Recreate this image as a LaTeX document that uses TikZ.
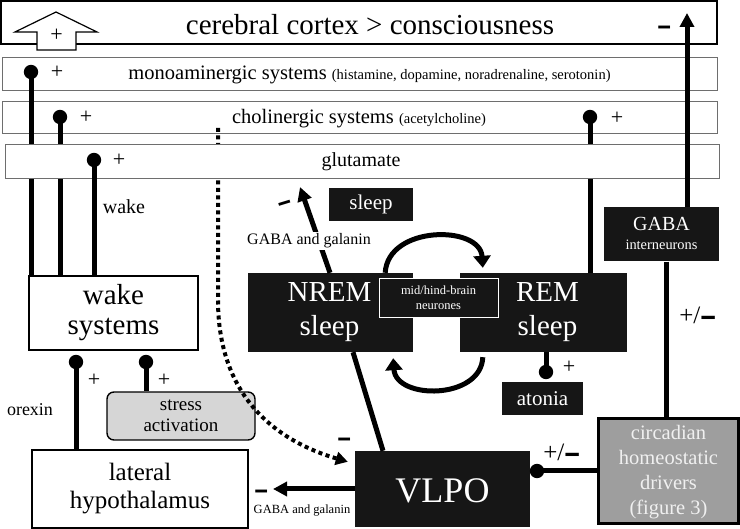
\documentclass[tikz,border=0pt]{standalone}
\usepackage{fontspec}
\usepackage{graphicx}
\setmainfont{Liberation Serif}
\usetikzlibrary{arrows.meta}
\definecolor{boxblack}{HTML}{161616}
\definecolor{circgrey}{HTML}{9E9E9E}
\definecolor{stressgrey}{HTML}{D6D6D6}
\definecolor{thinframe}{HTML}{6E6E6E}
\newcommand{\fsz}[1]{\fontsize{#1}{#1}\selectfont}
% heavy minus sign: the bar alone forms the box
\newcommand{\thkminus}{\raisebox{-0.89em}[0.19em][0pt]{\scalebox{1.15}[2.6]{−}}}
% heavy minus sign sitting on the axis of a "+"
\newcommand{\axminus}{\raisebox{-0.64em}[0.36em][0pt]{\scalebox{1.15}[2.6]{−}}}
\tikzset{
  thinbox/.style={draw=thinframe, line width=0.9pt, fill=white, inner sep=0pt},
  whitebox/.style={draw=black, line width=1.6pt, fill=white, inner sep=0pt},
  blackbox/.style={fill=boxblack, text=white, align=center, inner sep=0pt},
  txt/.style={inner sep=0pt, align=center},
  link/.style={line width=5pt},
  tipped/.style={line width=5pt, -{Triangle[length=14pt,width=14pt]}},
  arcarrow/.style={line width=5pt, -{Triangle[length=12pt,width=17pt]}},
  dotline/.style={line width=4pt, dash pattern=on 4pt off 3.5pt, -{Triangle[length=12pt,width=13pt]}},
  pinhead/.style={fill=black},
  sign/.style={inner sep=0pt, font=\fsz{22}},
}
\begin{document}
\begin{tikzpicture}[x=1pt,y=-1pt]
\useasboundingbox (0,0) rectangle (740,529);

% ---------- horizontal bands ----------
\node[thinbox, minimum width=715pt, minimum height=33pt] (mono) at (359.5,73.5) {};
\node[thinbox, minimum width=715pt, minimum height=32pt] (chol) at (359.5,117) {};
\node[whitebox, line width=2.2pt, minimum width=716pt, minimum height=43pt] (cortex) at (359,22.5) {};

% ---------- boxes ----------
\node[whitebox, minimum width=169pt, minimum height=74pt] (wake) at (113.5,313) {};
\node[whitebox, minimum width=216pt, minimum height=78pt] (lh) at (140,489) {};
\node[draw=black, line width=1.4pt, fill=stressgrey, rounded corners=7pt, minimum width=148pt, minimum height=48pt, inner sep=0pt] (stress) at (181,416) {};
\node[blackbox, minimum width=84pt, minimum height=33pt] (sleepbox) at (371,204.5) {};
\node[blackbox, minimum width=165pt, minimum height=79pt] (nrem) at (330.5,312.5) {};
\node[blackbox, minimum width=167pt, minimum height=79pt] (rem) at (543.5,312.5) {};
\node[blackbox, draw=white, line width=0.8pt, minimum width=119pt, minimum height=39pt] (mid) at (438.5,297.5) {};
\node[blackbox, minimum width=81pt, minimum height=33pt] (atonia) at (542.5,398.5) {};
\node[blackbox, minimum width=115pt, minimum height=54pt] (gaba) at (661.5,234.5) {};
\node[blackbox, minimum width=175pt, minimum height=76pt] (vlpo) at (442.5,489) {};
\node[draw=black, line width=3pt, fill=circgrey, minimum width=140pt, minimum height=105pt, inner sep=0pt] (circ) at (668.5,471.5) {};

% ---------- pin centres and tips ----------
\coordinate (pm) at (31,72);
\coordinate (pc) at (60,117);
\coordinate (pg) at (94,160);
\coordinate (pr) at (590,117);
\coordinate (pl) at (76,362);
\coordinate (ps) at (146,362);
\coordinate (pa) at (546,372);
\coordinate (pv) at (537,471);
\coordinate (ctip) at (687,13);
\coordinate (stip) at (300,187);
\coordinate (lhtip) at (273,489);
\coordinate (gx) at (666,300);
\coordinate (dstart) at (218,128);

% lines that pass under the glutamate band
\draw[link] (pm) -- (pm |- wake.north);
\draw[link] (pc) -- (pc |- wake.north);
\draw[link] (pr) -- (pr |- rem.north);
\draw[dotline] (dstart) -- (218,300) .. controls (218,400) and (280,442) .. ([shift={(-7,11)}]vlpo.north west);

\node[thinbox, minimum width=714pt, minimum height=34pt] (glut) at (362,161) {};

% ---------- other connectors ----------
\draw[link] (pg) -- (pg |- wake.north);
\draw[link] (pl) -- (pl |- lh.north);
\draw[link] (ps) -- (ps |- stress.north);
\draw[link] (rem.south -| pa) -- (pa);
\draw[link] (pv) -- (pv -| circ.west);
\draw[link] (gx |- gaba.south) -- (gx |- circ.north);
\draw[tipped] (gaba.north -| ctip) -- (ctip);
\draw[link] ([xshift=22.5pt]nrem.south) -- ([xshift=-59.5pt]vlpo.north);
\draw[tipped] ([xshift=-0.5pt]nrem.north) -- (stip);
\draw[tipped] (vlpo.west) -- (lhtip);
\draw[arcarrow] ([xshift=-28pt]nrem.north east) .. controls (388,225) and (480,225) .. ([shift={(23,-5)}]rem.north west);
\draw[arcarrow] ([shift={(23,5)}]rem.south west) .. controls (481,400) and (396,400) .. ([shift={(-20,6)}]nrem.south east);

% pin heads
\foreach \p in {pm,pc,pg,pr,pl,ps,pa,pv} \fill[pinhead] (\p) circle (7.2pt);

% block arrow in the cortex band
\draw[fill=white, line width=1.2pt, line join=miter] (37,50) -- (37,32) -- (15,32) -- (56,12) -- (97,32) -- (76,32) -- (76,50) -- cycle;
\node[sign] (bplus) at (56.5,35) {+};

% ---------- texts ----------
\node[txt, font=\fsz{29}] (tcortex) at (370,25) {cerebral cortex > consciousness};
\node[txt, anchor=base] (tmono) at (369.5,80) {\fsz{20.5}monoaminergic systems \fsz{14.5}(histamine, dopamine, noradrenaline, serotonin)};
\node[txt, anchor=base] (tchol) at (359,124) {\fsz{20.5}cholinergic systems \fsz{14.5}(acetylcholine)};
\node[txt, anchor=base, font=\fsz{20}] (tglut) at (361,167) {glutamate};

\node[sign] (s1) at (57,72) {+};
\node[sign] (s2) at (86,117) {+};
\node[sign] (s3) at (119,160) {+};
\node[sign] (s4) at (617,118) {+};
\node[sign] (s5) at (94,380) {+};
\node[sign] (s6) at (164,380) {+};
\node[sign] (s7) at (569,367) {+};

\node[txt, font=\fsz{20}] (twake) at (124,207) {wake};
\node[txt, font=\fsz{18}] (torexin) at (30,410) {orexin};
\node[txt, font={\fontsize{29}{30}\selectfont}] (twsys) at (wake.center) {wake\\systems};
\node[txt, font={\fontsize{25}{28}\selectfont}] (tlh) at (lh.center) {lateral\\hypothalamus};
\node[txt, font={\fontsize{19}{21}\selectfont}] (tstress) at (stress.center) {stress\\activation};
\node[txt, text=white, font=\fsz{21}] (tsleep) at (sleepbox.center) {sleep};
\node[txt, text=white, font={\fontsize{29}{34}\selectfont}] (tnrem) at ([xshift=-1pt]nrem.center) {NREM\\sleep};
\node[txt, text=white, font={\fontsize{29}{34}\selectfont}] (trem) at ([xshift=4pt]rem.center) {REM\\sleep};
\node[txt, text=white, font={\fontsize{12.5}{15}\selectfont}] (tmid) at (mid.center) {mid/hind-brain\\neurones};
\node[txt, text=white, font=\fsz{21}] (tatonia) at (atonia.center) {atonia};
\node[txt, text=white, font={\fontsize{14.4}{19}\selectfont}] (tgaba) at ([yshift=1pt]gaba.center) {{\fontsize{20}{19}\selectfont GABA}\\interneurons};
\node[txt, text=white, font=\fsz{36}] (tvlpo) at ([yshift=-2pt]vlpo.center) {VLPO};
\node[txt, text=white!94!black, font={\fontsize{20.5}{25}\selectfont}] (tcirc) at ([yshift=-1pt]circ.center) {circadian\\homeostatic\\drivers\\(figure 3)};

\node[txt, fill=white, inner sep=1.5pt, font=\fsz{16}] (tgg1) at (309,241) {GABA and galanin};
\node[txt, font=\fsz{12.5}] (tgg2) at (302,511) {GABA and galanin};

% minus signs and +/- labels
\node[sign] (m1) at (665,25) {\thkminus};
\node[sign, rotate=17] (m2) at (284,201) {\thkminus};
\node[sign] (m3) at (345,437) {\thkminus};
\node[sign] (m4) at (262,489) {\thkminus};
\node[sign, font=\fsz{25}] (pm1) at (698,315) {+/\axminus};
\node[sign, font=\fsz{25}] (pm2) at (562,452) {+/\axminus};
\end{tikzpicture}
\end{document}
